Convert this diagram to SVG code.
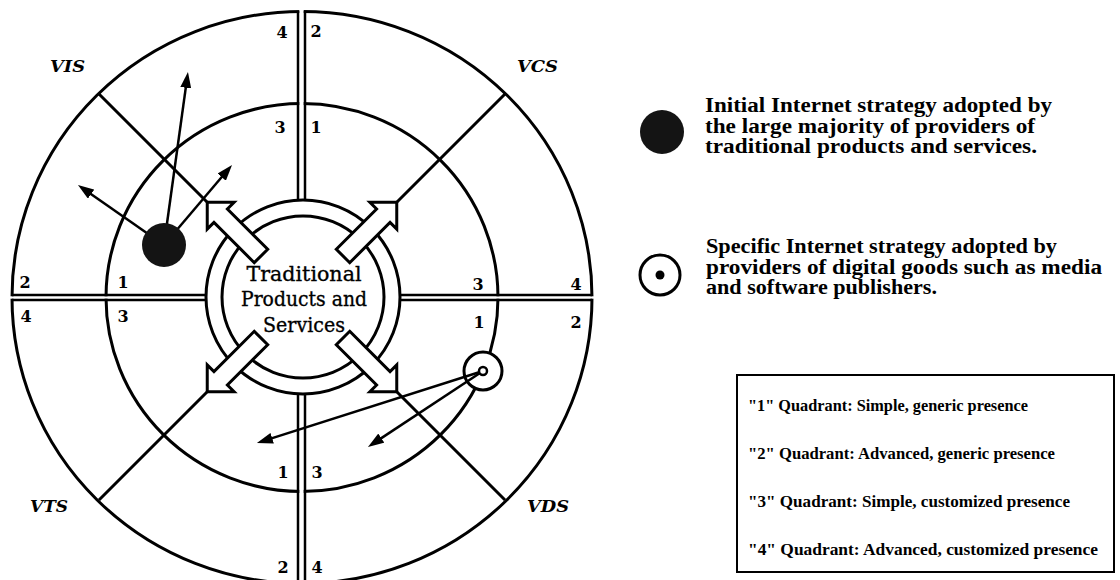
<svg xmlns="http://www.w3.org/2000/svg" width="1120" height="580" viewBox="0 0 1120 580">
<style>
.ln{fill:none;stroke:#000;stroke-width:3}
.dl{fill:none;stroke:#000;stroke-width:2.5}
.gap{fill:#fff}
.num{font-family:"DejaVu Serif","Liberation Serif",serif;font-weight:bold;font-size:16px;text-anchor:middle}
.lab{font-family:"DejaVu Serif","Liberation Serif",serif;font-weight:bold;font-style:italic;font-size:17px}
.ctr{font-family:"DejaVu Serif","Liberation Serif",serif;font-size:21px;text-anchor:middle;stroke:#000;stroke-width:0.35}
.leg{font-family:"Liberation Serif",serif;font-weight:bold;font-size:20px}
.box{font-family:"Liberation Serif",serif;font-weight:bold;font-size:17.5px}
.blk{fill:#fff;stroke:#000;stroke-width:3;stroke-linejoin:miter}
.thin{fill:none;stroke:#000;stroke-width:2.5}
</style>
<defs>
<marker id="ah" viewBox="0 0 16 11" refX="9" refY="5.5" markerWidth="16" markerHeight="11" markerUnits="userSpaceOnUse" orient="auto"><path d="M0,0 L16,5.5 L0,11 z" fill="#000"/></marker>
<polygon id="barrow" class="blk" points="58,-9.5 115,-9.5 115,-19 134,0 115,19 115,9.5 58,9.5"/>
</defs>

<g id="wheel">
<ellipse class="ln" cx="302" cy="297.5" rx="290" ry="286"/>
<ellipse class="ln" cx="302" cy="297.5" rx="196" ry="194"/>
<rect class="gap" x="0" y="296.3" width="600" height="2.4"/>
<rect class="gap" x="299.3" y="0" width="4.4" height="580"/>
<line class="dl" x1="12" y1="295" x2="206" y2="295"/>
<line class="dl" x1="12" y1="300" x2="206" y2="300"/>
<line class="dl" x1="398" y1="295" x2="592" y2="295"/>
<line class="dl" x1="398" y1="300" x2="592" y2="300"/>
<line class="dl" x1="298" y1="11" x2="298" y2="201"/>
<line class="dl" x1="305" y1="11" x2="305" y2="201"/>
<line class="dl" x1="298" y1="393" x2="298" y2="584"/>
<line class="dl" x1="305" y1="393" x2="305" y2="584"/>
<line class="ln" stroke-width="3.5" x1="99" y1="94" x2="207" y2="202"/>
<line class="ln" stroke-width="3.5" x1="505" y1="94" x2="397" y2="202"/>
<line class="ln" stroke-width="3.5" x1="99" y1="500" x2="207" y2="392"/>
<line class="ln" stroke-width="3.5" x1="505" y1="500" x2="397" y2="392"/>
</g>

<g id="numbers">
<text class="num" x="282" y="38">4</text>
<text class="num" x="280" y="133">3</text>
<text class="num" x="25" y="288">2</text>
<text class="num" x="123" y="288">1</text>
<text class="num" x="316" y="37">2</text>
<text class="num" x="316" y="133">1</text>
<text class="num" x="478" y="290">3</text>
<text class="num" x="576" y="290">4</text>
<text class="num" x="26" y="322">4</text>
<text class="num" x="123" y="322">3</text>
<text class="num" x="283" y="478">1</text>
<text class="num" x="283" y="573">2</text>
<text class="num" x="479" y="328">1</text>
<text class="num" x="576" y="328">2</text>
<text class="num" x="317" y="478">3</text>
<text class="num" x="317" y="573">4</text>
</g>

<g id="sector-labels">
<text class="lab" x="50" y="72" textLength="35" lengthAdjust="spacingAndGlyphs">VIS</text>
<text class="lab" x="517" y="72" textLength="41" lengthAdjust="spacingAndGlyphs">VCS</text>
<text class="lab" x="30" y="512" textLength="38" lengthAdjust="spacingAndGlyphs">VTS</text>
<text class="lab" x="527" y="512" textLength="42" lengthAdjust="spacingAndGlyphs">VDS</text>
</g>

<g id="node-center">
<circle cx="303" cy="297" r="97" fill="#fff" stroke="#000" stroke-width="3"/>
<circle cx="303" cy="297" r="81" fill="#fff" stroke="#000" stroke-width="3"/>
<text class="ctr" x="304" y="281" textLength="115" lengthAdjust="spacingAndGlyphs">Traditional</text>
<text class="ctr" x="304" y="306" textLength="126" lengthAdjust="spacingAndGlyphs">Products and</text>
<text class="ctr" x="304" y="332" textLength="82" lengthAdjust="spacingAndGlyphs">Services</text>
</g>

<g id="block-arrows">
<use href="#barrow" transform="translate(302,297) rotate(-135)"/>
<use href="#barrow" transform="translate(302,297) rotate(-45)"/>
<use href="#barrow" transform="translate(302,297) rotate(135)"/>
<use href="#barrow" transform="translate(302,297) rotate(45)"/>
</g>

<g id="node-vds-marker-bg">
<circle cx="483" cy="371" r="19" fill="#fff" stroke="#000" stroke-width="3"/>
</g>

<g id="connectors">
<line class="thin" x1="164" y1="245" x2="83.7" y2="189" marker-end="url(#ah)"/>
<line class="thin" x1="164" y1="245" x2="187" y2="78.9" marker-end="url(#ah)"/>
<line class="thin" x1="164" y1="245" x2="227.5" y2="170.3" marker-end="url(#ah)"/>
<line class="thin" x1="483" y1="371" x2="263.6" y2="440.9" marker-end="url(#ah)"/>
<line class="thin" x1="483" y1="371" x2="373.8" y2="443.1" marker-end="url(#ah)"/>
</g>

<g id="node-vis-strategy">
<circle cx="164" cy="245" r="22" fill="#141414"/>
</g>
<g id="node-vds-strategy">
<circle cx="483" cy="371" r="4" fill="#fff" stroke="#000" stroke-width="2.5"/>
</g>

<g id="legend-initial">
<circle cx="662" cy="132" r="22" fill="#141414"/>
<text class="leg" x="705" y="112" textLength="347" lengthAdjust="spacingAndGlyphs">Initial Internet strategy adopted by</text>
<text class="leg" x="705" y="133" textLength="330" lengthAdjust="spacingAndGlyphs">the large majority of providers of</text>
<text class="leg" x="705" y="153" textLength="332" lengthAdjust="spacingAndGlyphs">traditional products and services.</text>
</g>

<g id="legend-specific">
<circle cx="660" cy="275" r="20" fill="#fff" stroke="#000" stroke-width="3"/>
<circle cx="660" cy="275" r="4.5" fill="#000"/>
<text class="leg" x="706" y="253" textLength="351" lengthAdjust="spacingAndGlyphs">Specific Internet strategy adopted by</text>
<text class="leg" x="706" y="274" textLength="396" lengthAdjust="spacingAndGlyphs">providers of digital goods such as media</text>
<text class="leg" x="706" y="294" textLength="231" lengthAdjust="spacingAndGlyphs">and software publishers.</text>
</g>

<g id="legend-quadrants">
<rect x="737" y="375" width="377" height="197" fill="#fff" stroke="#000" stroke-width="2"/>
<text class="box" x="748" y="411" textLength="280" lengthAdjust="spacingAndGlyphs">"1" Quadrant: Simple, generic presence</text>
<text class="box" x="748" y="459" textLength="307" lengthAdjust="spacingAndGlyphs">"2" Quadrant: Advanced, generic presence</text>
<text class="box" x="748" y="507" textLength="322" lengthAdjust="spacingAndGlyphs">"3" Quadrant: Simple, customized presence</text>
<text class="box" x="748" y="555" textLength="350" lengthAdjust="spacingAndGlyphs">"4" Quadrant: Advanced, customized presence</text>
</g>
</svg>
